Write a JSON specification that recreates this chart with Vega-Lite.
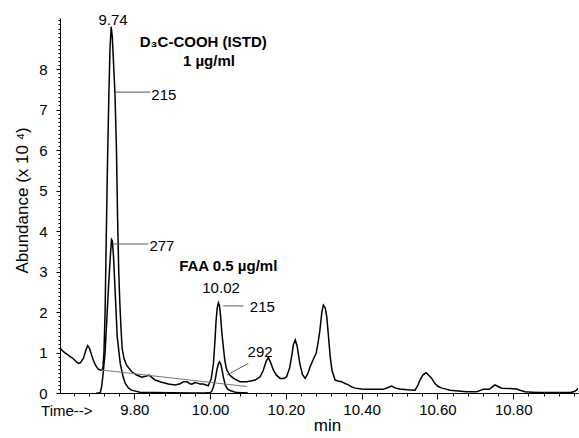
{
  "$schema": "https://vega.github.io/schema/vega-lite/v6.json",
  "width": 518,
  "height": 375,
  "autosize": {"type": "none"},
  "padding": {"left": 60, "top": 18, "right": 1, "bottom": 45},
  "config": {
    "font": "Liberation Sans",
    "view": {"stroke": null},
    "axis": {"grid": false, "domainColor": "#000", "tickColor": "#000", "labelColor": "#000", "titleColor": "#000", "titleFontWeight": "normal"}
  },
  "datasets": {
    "traces": [
      {"t": 9.604, "v": 1.11, "trace": "215"}, {"t": 9.610, "v": 1.05, "trace": "215"}, {"t": 9.617, "v": 0.99, "trace": "215"},
      {"t": 9.625, "v": 0.94, "trace": "215"}, {"t": 9.631, "v": 0.90, "trace": "215"}, {"t": 9.640, "v": 0.84, "trace": "215"},
      {"t": 9.648, "v": 0.76, "trace": "215"}, {"t": 9.653, "v": 0.73, "trace": "215"}, {"t": 9.658, "v": 0.75, "trace": "215"},
      {"t": 9.666, "v": 0.86, "trace": "215"}, {"t": 9.672, "v": 1.05, "trace": "215"}, {"t": 9.677, "v": 1.17, "trace": "215"},
      {"t": 9.682, "v": 1.10, "trace": "215"}, {"t": 9.688, "v": 0.92, "trace": "215"}, {"t": 9.692, "v": 0.81, "trace": "215"},
      {"t": 9.698, "v": 0.68, "trace": "215"}, {"t": 9.705, "v": 0.59, "trace": "215"}, {"t": 9.712, "v": 0.56, "trace": "215"},
      {"t": 9.717, "v": 0.60, "trace": "215"}, {"t": 9.720, "v": 1.0, "trace": "215"}, {"t": 9.723, "v": 2.0, "trace": "215"},
      {"t": 9.726, "v": 3.8, "trace": "215"}, {"t": 9.729, "v": 5.5, "trace": "215"}, {"t": 9.733, "v": 7.4, "trace": "215"},
      {"t": 9.736, "v": 8.5, "trace": "215"}, {"t": 9.739, "v": 9.04, "trace": "215"}, {"t": 9.742, "v": 8.8, "trace": "215"},
      {"t": 9.746, "v": 8.0, "trace": "215"}, {"t": 9.749, "v": 7.4, "trace": "215"}, {"t": 9.753, "v": 6.0, "trace": "215"},
      {"t": 9.756, "v": 4.3, "trace": "215"}, {"t": 9.759, "v": 3.0, "trace": "215"}, {"t": 9.762, "v": 2.2, "trace": "215"},
      {"t": 9.765, "v": 1.6, "trace": "215"}, {"t": 9.768, "v": 1.1, "trace": "215"}, {"t": 9.773, "v": 0.85, "trace": "215"},
      {"t": 9.780, "v": 0.68, "trace": "215"}, {"t": 9.793, "v": 0.53, "trace": "215"}, {"t": 9.805, "v": 0.45, "trace": "215"},
      {"t": 9.820, "v": 0.39, "trace": "215"}, {"t": 9.832, "v": 0.42, "trace": "215"}, {"t": 9.839, "v": 0.44, "trace": "215"},
      {"t": 9.847, "v": 0.38, "trace": "215"}, {"t": 9.855, "v": 0.32, "trace": "215"}, {"t": 9.870, "v": 0.27, "trace": "215"},
      {"t": 9.890, "v": 0.22, "trace": "215"}, {"t": 9.908, "v": 0.20, "trace": "215"}, {"t": 9.921, "v": 0.23, "trace": "215"},
      {"t": 9.930, "v": 0.28, "trace": "215"}, {"t": 9.939, "v": 0.28, "trace": "215"}, {"t": 9.947, "v": 0.23, "trace": "215"},
      {"t": 9.952, "v": 0.22, "trace": "215"}, {"t": 9.960, "v": 0.26, "trace": "215"}, {"t": 9.965, "v": 0.25, "trace": "215"},
      {"t": 9.974, "v": 0.22, "trace": "215"}, {"t": 9.982, "v": 0.22, "trace": "215"}, {"t": 9.995, "v": 0.18, "trace": "215"},
      {"t": 10.003, "v": 0.35, "trace": "215"}, {"t": 10.009, "v": 0.73, "trace": "215"}, {"t": 10.013, "v": 1.3, "trace": "215"},
      {"t": 10.016, "v": 1.80, "trace": "215"}, {"t": 10.019, "v": 2.1, "trace": "215"}, {"t": 10.022, "v": 2.23, "trace": "215"},
      {"t": 10.025, "v": 2.15, "trace": "215"}, {"t": 10.028, "v": 1.88, "trace": "215"}, {"t": 10.031, "v": 1.5, "trace": "215"},
      {"t": 10.035, "v": 1.14, "trace": "215"}, {"t": 10.039, "v": 0.8, "trace": "215"}, {"t": 10.044, "v": 0.57, "trace": "215"},
      {"t": 10.052, "v": 0.44, "trace": "215"}, {"t": 10.062, "v": 0.36, "trace": "215"}, {"t": 10.079, "v": 0.28, "trace": "215"},
      {"t": 10.097, "v": 0.28, "trace": "215"}, {"t": 10.110, "v": 0.30, "trace": "215"}, {"t": 10.119, "v": 0.32, "trace": "215"},
      {"t": 10.132, "v": 0.40, "trace": "215"}, {"t": 10.140, "v": 0.55, "trace": "215"}, {"t": 10.148, "v": 0.78, "trace": "215"},
      {"t": 10.154, "v": 0.88, "trace": "215"}, {"t": 10.160, "v": 0.75, "trace": "215"}, {"t": 10.167, "v": 0.57, "trace": "215"},
      {"t": 10.175, "v": 0.44, "trace": "215"}, {"t": 10.185, "v": 0.36, "trace": "215"}, {"t": 10.195, "v": 0.36, "trace": "215"},
      {"t": 10.202, "v": 0.40, "trace": "215"}, {"t": 10.210, "v": 0.62, "trace": "215"}, {"t": 10.216, "v": 0.95, "trace": "215"},
      {"t": 10.220, "v": 1.2, "trace": "215"}, {"t": 10.225, "v": 1.31, "trace": "215"}, {"t": 10.230, "v": 1.15, "trace": "215"},
      {"t": 10.237, "v": 0.72, "trace": "215"}, {"t": 10.244, "v": 0.45, "trace": "215"}, {"t": 10.251, "v": 0.36, "trace": "215"},
      {"t": 10.258, "v": 0.48, "trace": "215"}, {"t": 10.264, "v": 0.65, "trace": "215"}, {"t": 10.272, "v": 0.82, "trace": "215"},
      {"t": 10.280, "v": 0.98, "trace": "215"}, {"t": 10.286, "v": 1.3, "trace": "215"}, {"t": 10.290, "v": 1.56, "trace": "215"},
      {"t": 10.295, "v": 2.0, "trace": "215"}, {"t": 10.299, "v": 2.17, "trace": "215"}, {"t": 10.304, "v": 2.1, "trace": "215"},
      {"t": 10.308, "v": 1.88, "trace": "215"}, {"t": 10.313, "v": 1.35, "trace": "215"}, {"t": 10.317, "v": 0.90, "trace": "215"},
      {"t": 10.322, "v": 0.55, "trace": "215"}, {"t": 10.330, "v": 0.32, "trace": "215"}, {"t": 10.340, "v": 0.29, "trace": "215"},
      {"t": 10.347, "v": 0.28, "trace": "215"}, {"t": 10.355, "v": 0.24, "trace": "215"}, {"t": 10.365, "v": 0.20, "trace": "215"},
      {"t": 10.374, "v": 0.15, "trace": "215"}, {"t": 10.383, "v": 0.12, "trace": "215"}, {"t": 10.400, "v": 0.10, "trace": "215"},
      {"t": 10.413, "v": 0.09, "trace": "215"}, {"t": 10.440, "v": 0.09, "trace": "215"}, {"t": 10.457, "v": 0.09, "trace": "215"},
      {"t": 10.468, "v": 0.13, "trace": "215"}, {"t": 10.479, "v": 0.17, "trace": "215"}, {"t": 10.490, "v": 0.12, "trace": "215"},
      {"t": 10.501, "v": 0.10, "trace": "215"}, {"t": 10.520, "v": 0.08, "trace": "215"}, {"t": 10.541, "v": 0.07, "trace": "215"},
      {"t": 10.548, "v": 0.18, "trace": "215"}, {"t": 10.554, "v": 0.32, "trace": "215"}, {"t": 10.562, "v": 0.45, "trace": "215"},
      {"t": 10.570, "v": 0.50, "trace": "215"}, {"t": 10.577, "v": 0.44, "trace": "215"}, {"t": 10.585, "v": 0.36, "trace": "215"},
      {"t": 10.593, "v": 0.24, "trace": "215"}, {"t": 10.602, "v": 0.16, "trace": "215"}, {"t": 10.612, "v": 0.12, "trace": "215"},
      {"t": 10.625, "v": 0.09, "trace": "215"}, {"t": 10.633, "v": 0.07, "trace": "215"}, {"t": 10.655, "v": 0.05, "trace": "215"},
      {"t": 10.677, "v": 0.03, "trace": "215"}, {"t": 10.704, "v": 0.03, "trace": "215"}, {"t": 10.715, "v": 0.07, "trace": "215"},
      {"t": 10.721, "v": 0.09, "trace": "215"}, {"t": 10.737, "v": 0.09, "trace": "215"}, {"t": 10.745, "v": 0.15, "trace": "215"},
      {"t": 10.752, "v": 0.20, "trace": "215"}, {"t": 10.760, "v": 0.16, "trace": "215"}, {"t": 10.770, "v": 0.12, "trace": "215"},
      {"t": 10.790, "v": 0.11, "trace": "215"}, {"t": 10.809, "v": 0.10, "trace": "215"}, {"t": 10.820, "v": 0.06, "trace": "215"},
      {"t": 10.831, "v": 0.03, "trace": "215"}, {"t": 10.850, "v": 0.02, "trace": "215"}, {"t": 10.871, "v": 0.01, "trace": "215"},
      {"t": 10.950, "v": 0.01, "trace": "215"}, {"t": 10.960, "v": 0.03, "trace": "215"}, {"t": 10.967, "v": 0.07, "trace": "215"},
      {"t": 10.971, "v": 0.12, "trace": "215"},
      {"t": 9.700, "v": 0.0, "trace": "277"}, {"t": 9.710, "v": 0.0, "trace": "277"}, {"t": 9.714, "v": 0.16, "trace": "277"},
      {"t": 9.718, "v": 0.5, "trace": "277"}, {"t": 9.723, "v": 1.0, "trace": "277"}, {"t": 9.728, "v": 1.9, "trace": "277"},
      {"t": 9.732, "v": 2.62, "trace": "277"}, {"t": 9.737, "v": 3.4, "trace": "277"}, {"t": 9.740, "v": 3.79, "trace": "277"},
      {"t": 9.742, "v": 3.76, "trace": "277"}, {"t": 9.745, "v": 3.4, "trace": "277"}, {"t": 9.749, "v": 2.62, "trace": "277"},
      {"t": 9.755, "v": 1.39, "trace": "277"}, {"t": 9.763, "v": 0.73, "trace": "277"}, {"t": 9.770, "v": 0.42, "trace": "277"},
      {"t": 9.776, "v": 0.24, "trace": "277"}, {"t": 9.785, "v": 0.12, "trace": "277"}, {"t": 9.793, "v": 0.07, "trace": "277"},
      {"t": 9.815, "v": 0.02, "trace": "277"}, {"t": 9.850, "v": 0.01, "trace": "277"}, {"t": 9.950, "v": 0.0, "trace": "277"},
      {"t": 10.000, "v": 0.0, "trace": "277"},
      {"t": 9.990, "v": 0.0, "trace": "292"}, {"t": 10.000, "v": 0.0, "trace": "292"}, {"t": 10.005, "v": 0.05, "trace": "292"},
      {"t": 10.009, "v": 0.16, "trace": "292"}, {"t": 10.014, "v": 0.35, "trace": "292"}, {"t": 10.018, "v": 0.57, "trace": "292"},
      {"t": 10.022, "v": 0.72, "trace": "292"}, {"t": 10.025, "v": 0.77, "trace": "292"}, {"t": 10.028, "v": 0.72, "trace": "292"},
      {"t": 10.031, "v": 0.61, "trace": "292"}, {"t": 10.035, "v": 0.40, "trace": "292"}, {"t": 10.040, "v": 0.20, "trace": "292"},
      {"t": 10.046, "v": 0.10, "trace": "292"}, {"t": 10.053, "v": 0.06, "trace": "292"}, {"t": 10.070, "v": 0.01, "trace": "292"},
      {"t": 10.100, "v": 0.0, "trace": "292"}
    ],
    "baseline": [
      {"t": 9.712, "v": 0.57},
      {"t": 10.097, "v": 0.16}
    ],
    "leaders": [
      {"t": 9.749, "t2": 9.842, "v": 7.43, "v2": 7.43},
      {"t": 9.745, "t2": 9.837, "v": 3.68, "v2": 3.68},
      {"t": 10.035, "t2": 10.088, "v": 2.15, "v2": 2.15},
      {"t": 10.044, "t2": 10.101, "v": 0.44, "v2": 0.73}
    ],
    "centerText": [
      {"label": "9.74", "t": 9.744, "v": 9.2},
      {"label": "10.02", "t": 10.029, "v": 2.60},
      {"label": "292", "t": 10.132, "v": 1.02},
      {"label": "Time-->", "t": 9.622, "v": -0.44}
    ],
    "leftText": [
      {"label": "215", "t": 9.845, "v": 7.37},
      {"label": "277", "t": 9.840, "v": 3.63},
      {"label": "215", "t": 10.105, "v": 2.12}
    ],
    "boldText": [
      {"label": "D₃C-COOH (ISTD)", "t": 9.982, "v": 8.67},
      {"label": "1 µg/ml", "t": 9.997, "v": 8.20},
      {"label": "FAA 0.5 µg/ml", "t": 10.048, "v": 3.14}
    ]
  },
  "resolve": {"axis": {"x": "independent", "y": "independent"}},
  "layer": [
    {
      "data": {"name": "traces"},
      "mark": {"type": "line", "color": "#000", "strokeWidth": 1.5, "clip": true},
      "encoding": {
        "x": {
          "field": "t", "type": "quantitative",
          "scale": {"domain": [9.604, 10.971], "nice": false, "zero": false},
          "axis": {
            "orient": "bottom",
            "values": [9.8, 10.0, 10.2, 10.4, 10.6, 10.8],
            "format": ".2f",
            "labelFontSize": 15, "labelPadding": 3, "tickSize": 6,
            "title": "min", "titleFontSize": 17, "titleX": 267, "titleY": 37,
            "titleBaseline": "alphabetic", "titleAlign": "center"
          }
        },
        "y": {
          "field": "v", "type": "quantitative",
          "scale": {"domain": [0, 9.26], "nice": false, "zero": false},
          "axis": {
            "orient": "left",
            "values": [0, 1, 2, 3, 4, 5, 6, 7, 8],
            "labelFontSize": 15, "labelPadding": 9, "tickSize": 4,
            "title": "Abundance (x 10 ⁴)", "titleFontSize": 17,
            "titleAngle": 270, "titleX": -33, "titleY": 182,
            "titleAlign": "center", "titleBaseline": "alphabetic"
          }
        },
        "detail": {"field": "trace"}
      }
    },
    {
      "data": {"name": "baseline"},
      "mark": {"type": "line", "color": "#777", "strokeWidth": 1},
      "encoding": {
        "x": {
          "field": "t", "type": "quantitative",
          "axis": {
            "orient": "bottom", "domain": false, "labels": false, "title": null, "tickSize": 3,
            "values": [9.64, 9.68, 9.72, 9.76, 9.84, 9.88, 9.92, 9.96, 10.04, 10.08, 10.12, 10.16, 10.24, 10.28, 10.32, 10.36, 10.44, 10.48, 10.52, 10.56, 10.64, 10.68, 10.72, 10.76, 10.84, 10.88, 10.92, 10.96]
          }
        },
        "y": {
          "field": "v", "type": "quantitative",
          "axis": {
            "orient": "left", "domain": false, "labels": false, "title": null, "tickSize": 2,
            "values": [0.1, 0.2, 0.3, 0.4, 0.5, 0.6, 0.7, 0.8, 0.9, 1.1, 1.2, 1.3, 1.4, 1.5, 1.6, 1.7, 1.8, 1.9, 2.1, 2.2, 2.3, 2.4, 2.5, 2.6, 2.7, 2.8, 2.9, 3.1, 3.2, 3.3, 3.4, 3.5, 3.6, 3.7, 3.8, 3.9, 4.1, 4.2, 4.3, 4.4, 4.5, 4.6, 4.7, 4.8, 4.9, 5.1, 5.2, 5.3, 5.4, 5.5, 5.6, 5.7, 5.8, 5.9, 6.1, 6.2, 6.3, 6.4, 6.5, 6.6, 6.7, 6.8, 6.9, 7.1, 7.2, 7.3, 7.4, 7.5, 7.6, 7.7, 7.8, 7.9, 8.1, 8.2, 8.3, 8.4, 8.5, 8.6, 8.7, 8.8, 8.9, 9.0, 9.1, 9.2]
          }
        }
      }
    },
    {
      "data": {"name": "leaders"},
      "mark": {"type": "rule", "color": "#555", "strokeWidth": 1},
      "encoding": {
        "x": {"field": "t", "type": "quantitative", "axis": null},
        "x2": {"field": "t2"},
        "y": {"field": "v", "type": "quantitative", "axis": null},
        "y2": {"field": "v2"}
      }
    },
    {
      "data": {"name": "centerText"},
      "mark": {"type": "text", "fontSize": 15, "align": "center", "baseline": "middle", "color": "#000"},
      "encoding": {
        "x": {"field": "t", "type": "quantitative", "axis": null},
        "y": {"field": "v", "type": "quantitative", "axis": null},
        "text": {"field": "label"}
      }
    },
    {
      "data": {"name": "leftText"},
      "mark": {"type": "text", "fontSize": 15, "align": "left", "baseline": "middle", "color": "#000"},
      "encoding": {
        "x": {"field": "t", "type": "quantitative", "axis": null},
        "y": {"field": "v", "type": "quantitative", "axis": null},
        "text": {"field": "label"}
      }
    },
    {
      "data": {"name": "boldText"},
      "mark": {"type": "text", "fontSize": 15, "fontWeight": "bold", "align": "center", "baseline": "middle", "color": "#000"},
      "encoding": {
        "x": {"field": "t", "type": "quantitative", "axis": null},
        "y": {"field": "v", "type": "quantitative", "axis": null},
        "text": {"field": "label"}
      }
    }
  ]
}
